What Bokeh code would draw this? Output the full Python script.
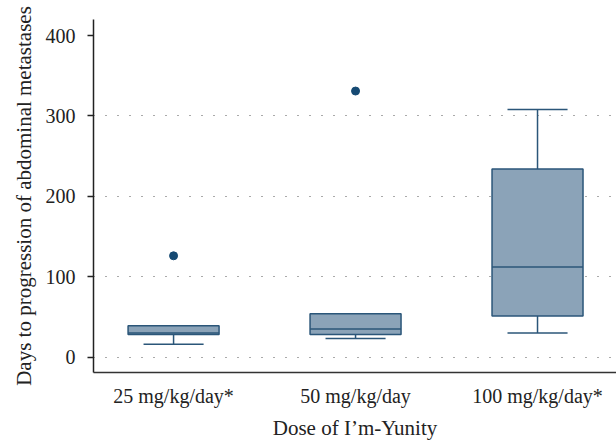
from bokeh.plotting import figure
from bokeh.models import FixedTicker, Range1d
from bokeh.embed import file_html
from bokeh.resources import INLINE

categories = ["25 mg/kg/day*", "50 mg/kg/day", "100 mg/kg/day*"]
q1 = [28, 28, 51]
median = [30, 35, 112]
q3 = [39, 54, 234]
lower = [16, 23, 30]
upper = [39, 54, 308]
outlier_group = [0, 1]
outlier_value = [126, 331]
y_ticks = [0, 100, 200, 300, 400]
grid_ticks = [0, 100, 200, 300]

FONT = "Liberation Serif"
FILL = "#8ba3b8"
LINE = "#2b5679"
DOT = "#164a73"

xs = [i + 1 for i in range(len(categories))]
box_w = 0.5
cap_w = 0.33

p = figure(width=616, height=442, output_backend="svg", toolbar_location=None,
           x_range=Range1d(0.56, 3.434), y_range=Range1d(-19.2, 420),
           min_border_left=93, min_border_right=0, min_border_top=19,
           min_border_bottom=69)
p.outline_line_color = None
p.background_fill_color = "white"

# grid
p.xgrid.visible = False
p.ygrid.ticker = FixedTicker(ticks=grid_ticks)
p.ygrid.grid_line_color = "#555555"
p.ygrid.grid_line_width = 1.2
p.ygrid.grid_line_dash = "1 11"

# whiskers
p.segment(x0=xs, x1=xs, y0=lower, y1=q1, line_color=LINE, line_width=1.5)
p.segment(x0=xs, x1=xs, y0=q3, y1=upper, line_color=LINE, line_width=1.5)
p.segment(x0=[x - cap_w / 2 for x in xs], x1=[x + cap_w / 2 for x in xs],
          y0=lower, y1=lower, line_color=LINE, line_width=1.5)
p.segment(x0=[x - cap_w / 2 for x in xs], x1=[x + cap_w / 2 for x in xs],
          y0=upper, y1=upper, line_color=LINE, line_width=1.5)
# boxes
p.vbar(x=xs, width=box_w, bottom=q1, top=q3, fill_color=FILL,
       line_color=LINE, line_width=1.5)
p.segment(x0=[x - box_w / 2 for x in xs], x1=[x + box_w / 2 for x in xs],
          y0=median, y1=median, line_color=LINE, line_width=1.5)
# outliers
p.scatter(x=[xs[g] for g in outlier_group], y=outlier_value, size=8,
          fill_color=DOT, line_color=DOT)

# x axis
xa = p.xaxis[0]
xa.ticker = FixedTicker(ticks=xs)
xa.major_label_overrides = {x: c for x, c in zip(xs, categories)}
xa.major_tick_line_color = None
xa.major_tick_out = 0
xa.major_tick_in = 0
xa.minor_tick_line_color = None
xa.axis_line_color = "#333333"
xa.axis_line_width = 1.5
xa.major_label_text_font = FONT
xa.major_label_text_font_size = "20px"
xa.major_label_text_color = "#222222"
xa.major_label_standoff = 12
xa.axis_label = "Dose of I\u2019m-Yunity"
xa.axis_label_text_font = FONT
xa.axis_label_text_font_size = "21px"
xa.axis_label_text_font_style = "normal"
xa.axis_label_text_color = "#222222"
xa.axis_label_standoff = 6

# y axis
ya = p.yaxis[0]
ya.ticker = FixedTicker(ticks=y_ticks)
ya.minor_tick_line_color = None
ya.major_tick_out = 6
ya.major_tick_in = 0
ya.major_tick_line_color = "#222222"
ya.major_tick_line_width = 1.3
ya.axis_line_color = "#222222"
ya.axis_line_width = 1.5
ya.major_label_text_font = FONT
ya.major_label_text_font_size = "20px"
ya.major_label_text_color = "#222222"
ya.major_label_standoff = 12
ya.axis_label = "Days to progression of abdominal metastases"
ya.axis_label_text_font = FONT
ya.axis_label_text_font_size = "21px"
ya.axis_label_text_font_style = "normal"
ya.axis_label_text_color = "#222222"
ya.axis_label_standoff = 7

open("out.html", "w").write(file_html(p, INLINE))
